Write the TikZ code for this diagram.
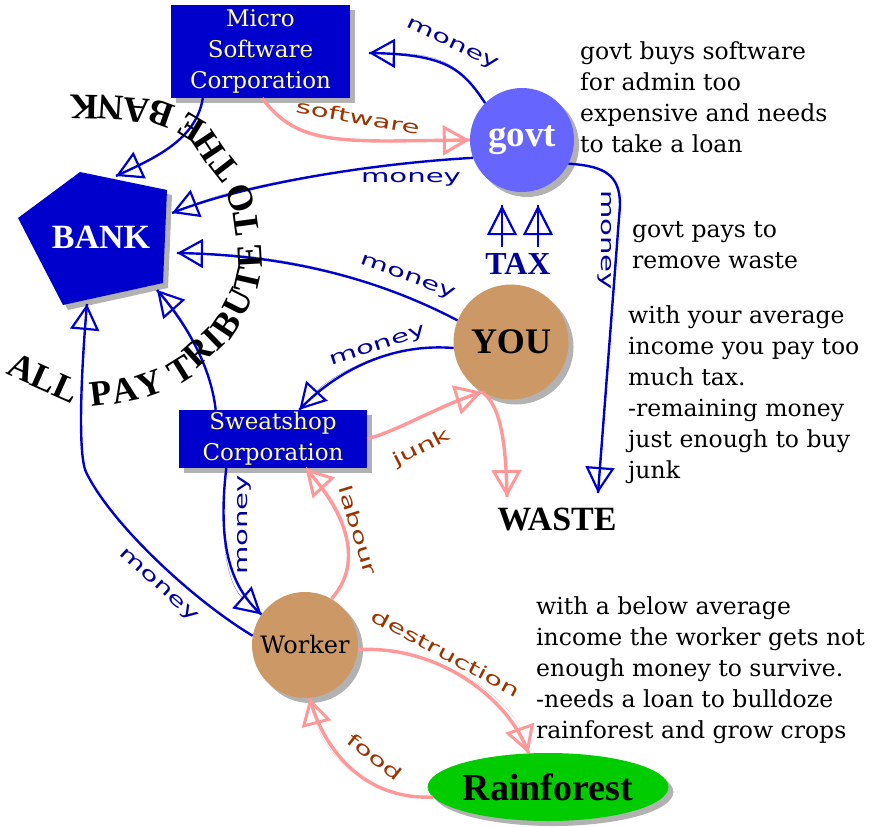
\documentclass[tikz,border=0pt]{standalone}
\usepackage{fontspec}
\setmainfont{DejaVu Serif}
\newfontfamily\tms{Liberation Serif}
\newfontfamily\lblfont{DejaVu Sans}[FakeStretch=1.62]
\usetikzlibrary{arrows.meta,shadows,decorations.text,shapes.geometric}
\definecolor{boxblue}{HTML}{0000CC}
\definecolor{lineblue}{HTML}{0000CC}
\definecolor{lblblue}{HTML}{000099}
\definecolor{boxtext}{HTML}{FFFF99}
\definecolor{govtc}{HTML}{6666FF}
\definecolor{brownc}{HTML}{CC9966}
\definecolor{greenc}{HTML}{00CC00}
\definecolor{pinkc}{HTML}{FF9999}
\definecolor{lblbrown}{HTML}{993300}
\newcommand\tribfont{\tms\bfseries\fontsize{36}{40}\selectfont}
\tikzset{
  shd/.style={drop shadow={shadow xshift=5pt, shadow yshift=-5pt, fill=black, opacity=0.3}},
  corpbox/.style={shd, fill=boxblue, text=boxtext, align=center, inner sep=0pt, font=\fontsize{23}{31}\selectfont},
  disc/.style={circle, shd, inner sep=0pt},
  bline/.style={draw=lineblue, line width=2.4pt},
  pline/.style={draw=pinkc, line width=3.4pt},
  btip/.style={bline, postaction={draw=lineblue, line width=0.1pt, -{Triangle[open, length=26pt, width=29pt, line width=2.2pt]}}},
  taxtip/.style={bline, postaction={draw=lineblue, line width=0.1pt, -{Triangle[open, length=30pt, width=30pt, line width=2.2pt]}}},
  ptip/.style={pline, postaction={draw=pinkc, line width=0.1pt, -{Triangle[open, length=27pt, width=30pt, line width=3pt]}}},
  mlbl/.style={text=lblblue, font=\lblfont\fontsize{18}{18}\selectfont, inner sep=0pt},
  plbl/.style={text=lblbrown, font=\lblfont\fontsize{18}{18}\selectfont, inner sep=0pt},
  note/.style={anchor=north west, align=left, inner sep=0pt, font=\fontsize{23.5}{31}\selectfont},
  bigword/.style={font=\tms\bfseries\fontsize{34}{34}\selectfont, inner sep=0pt},
}
\begin{document}
\begin{tikzpicture}[x=1pt,y=-1pt]
\useasboundingbox (0,0) rectangle (878,827);
\fill[white] (0,0) rectangle (878,827);

% bank pentagon
\coordinate (p1) at (80,172);
\coordinate (p2) at (167,190);
\coordinate (p3) at (163,283);
\coordinate (p4) at (63,305);
\coordinate (p5) at (18,218);
\fill[boxblue, shd] (p1) -- (p2) -- (p3) -- (p4) -- (p5) -- cycle;
\node[bigword, text=white] (bank) at (101,237) {BANK};

% nodes
\node[corpbox, minimum width=179pt, minimum height=93pt] (micro) at (260.5,51.5) {Micro\\Software\\Corporation};
\node[corpbox, minimum width=188pt, minimum height=58pt] (sweat) at (273,439) {Sweatshop\\Corporation};
\node[disc, fill=govtc, minimum size=104pt, text=white, font=\tms\bfseries\fontsize{37}{37}\selectfont] (govt) at (522,140) {govt};
\node[disc, fill=brownc, minimum size=115pt, font=\tms\bfseries\fontsize{36}{36}\selectfont] (you) at (511,342) {YOU};
\node[disc, fill=brownc, minimum size=106pt, font=\fontsize{24}{24}\selectfont] (worker) at (305,645) {Worker};
\node[ellipse, shd, fill=greenc, minimum width=240pt, minimum height=68pt, inner sep=0pt, font=\tms\bfseries\fontsize{38}{38}\selectfont] (rain) at (548,787) {Rainforest};
\node[bigword] (waste) at (557,519) {WASTE};
\node[bigword, text=lblblue, font=\tms\bfseries\fontsize{32}{32}\selectfont] (tax) at (518,264) {TAX};

% notes
\node[note] (n1) at (580,41) {\vphantom{b}govt buys software\\for admin too\\expensive and needs\\to take a loan};
\node[note] (n2) at (632,219) {\vphantom{b}govt pays to\\remove waste};
\node[note] (n3) at (628,305) {\vphantom{b}with your average\\income you pay too\\much tax.\\-remaining money\\just enough to buy\\junk};
\node[note] (n4) at (536,596) {\vphantom{b}with a below average\\income the worker gets not\\enough money to survive.\\-needs a loan to bulldoze\\rainforest and grow crops};

% coordinates for free ends
\coordinate (mtip) at (369,53);
\coordinate (wtip) at (598,493);
\coordinate (wtip2) at (507,497);
\coordinate (b1) at (116,176);
\coordinate (b2) at (172,213);
\coordinate (b3) at (177,253);
\coordinate (b4) at (157,290);
\coordinate (b5) at (87,304);

% blue money connectors
\draw[btip] (govt.135) .. controls (462,68) and (445,54) .. (mtip);
\draw[btip] (micro.219) .. controls (196,140) and (155,158) .. (b1);
\draw[btip] (govt.200) .. controls (380,163) and (250,182) .. (b2);
\draw[btip] (you.158) .. controls (390,285) and (300,255) .. (b3);
\draw[btip] (you.186) .. controls (380,342) and (325,382) .. (sweat.48);
\draw[btip] (sweat.153) .. controls (210,360) and (180,316) .. (b4);
\draw[btip] (worker.170) .. controls (190,598) and (110,522) .. (86,472) .. controls (77,452) and (82,360) .. (b5);
\draw[btip] (sweat.212) .. controls (218,540) and (228,585) .. (worker.145);
\draw[btip] (govt.-27) .. controls (605,166) and (620,175) .. (620,205) -- (wtip);
\draw[taxtip] ([xshift=-16pt, yshift=6pt]tax.north) -- ++(0,-42);
\draw[taxtip] ([xshift=20pt, yshift=6pt]tax.north) -- ++(0,-42);

% pink connectors
\draw[ptip] (micro.-88) .. controls (290,135) and (320,141) .. (390,141) -- (govt.west);
\draw[ptip] (sweat.east) .. controls (400,430) and (440,405) .. (you.240);
\draw[ptip] (you.240) .. controls (500,405) and (506,440) .. (wtip2);
\draw[ptip] (worker.60) .. controls (370,555) and (335,500) .. (sweat.-42);
\draw[ptip] (worker.-5) .. controls (440,645) and (510,700) .. (rain.120);
\draw[ptip] (rain.185) .. controls (360,800) and (322,745) .. (worker.-85);

% labels
\node[mlbl, rotate=-25] (lm1) at (452,45) {money};
\node[mlbl] (lm2) at (411,179) {money};
\node[mlbl, rotate=-20] (lm3) at (408,278) {money};
\node[mlbl, rotate=18] (lm4) at (378,347) {money};
\node[mlbl, rotate=-42] (lm5) at (158,586) {money};
\node[mlbl, rotate=90] (lm6) at (244,525) {money};
\node[mlbl, rotate=-90] (lm7) at (605,240) {money};
\node[plbl, rotate=-10] (ls) at (358,117) {software};
\node[plbl, rotate=27] (lj) at (422,448) {junk};
\node[plbl, rotate=-73] (ll) at (358,530) {labour};
\node[plbl, rotate=-28] (ld) at (446,653) {destruction};
\node[plbl, rotate=-38] (lf) at (375,757) {food};

% curved slogan
\path[decorate, decoration={text along path, raise=-12pt, text={|\tribfont|ALL}}] (10,363) -- (100,403);
\path[decorate, decoration={text along path, raise=-12pt, text={|\tribfont|PAY TRIBUTE TO THE BANK}}]
  plot[smooth, tension=0.5] coordinates {(90,395) (120,391) (148,384) (181,370) (197,353) (212,340) (225,326) (237,305) (247,283) (250,263) (249,245) (247,232) (242,202) (230,175) (213,153) (195,130) (160,113) (135,110) (108,108) (82,107) (45,107)};
\end{tikzpicture}
\end{document}
